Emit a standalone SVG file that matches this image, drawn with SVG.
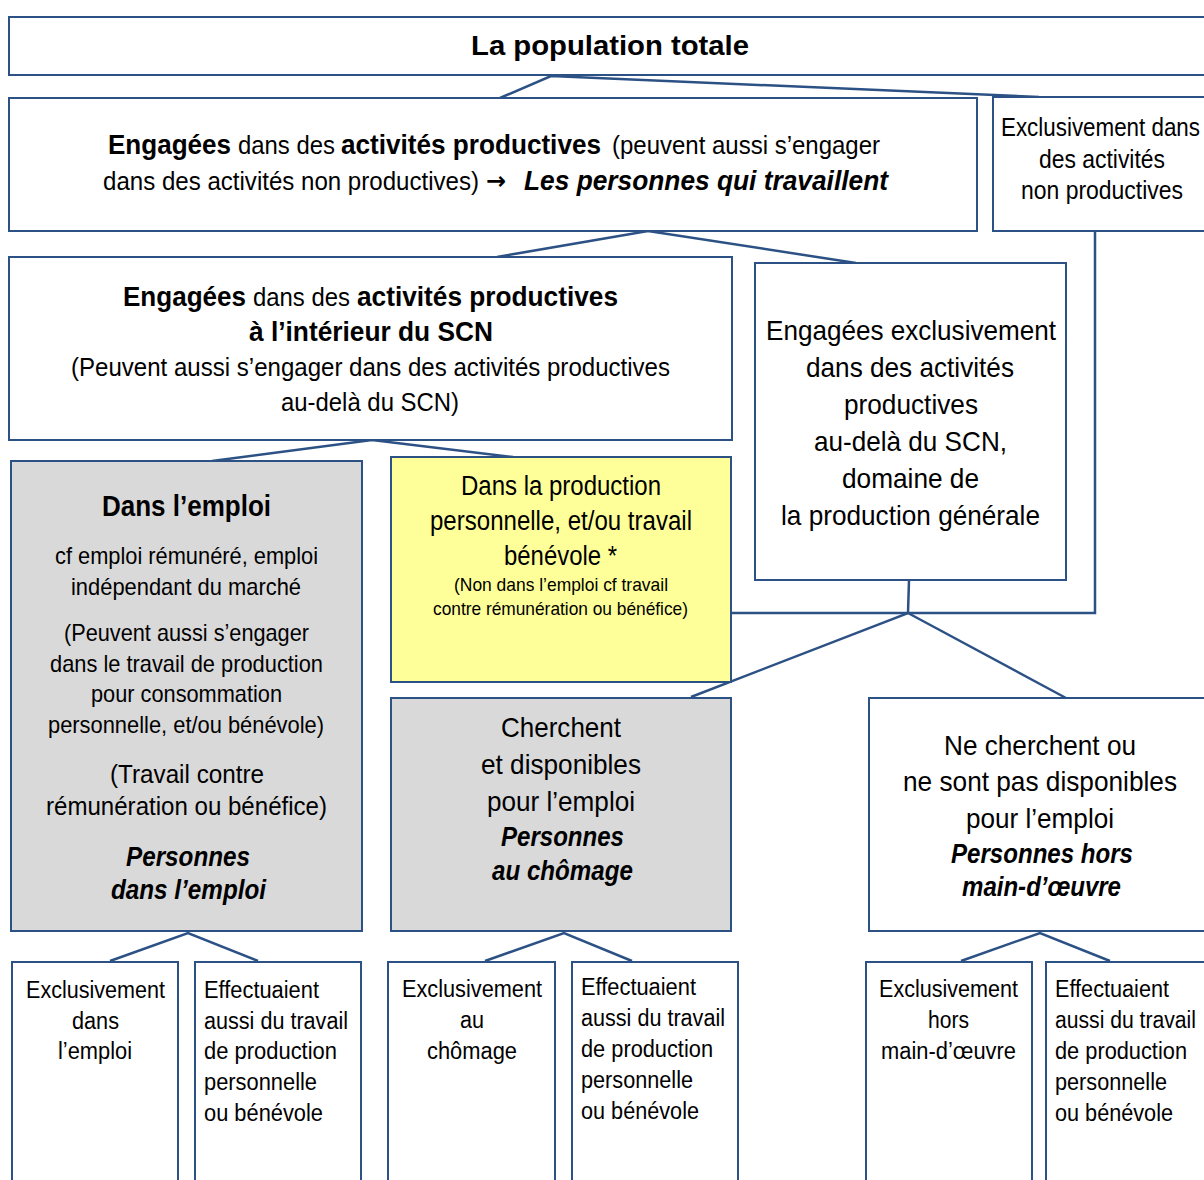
<svg xmlns="http://www.w3.org/2000/svg" width="1204" height="1180" viewBox="0 0 1204 1180">
<style>
.box{fill:#fff;stroke:#2C5185;stroke-width:2}
.gray{fill:#D9D9D9}
.yel{fill:#FFFF99}
.ln{stroke:#2C5185;stroke-width:2.5;fill:none}
text{font-family:"Liberation Sans",Arial,sans-serif;fill:#000}
.b{font-weight:bold}
.bi{font-weight:bold;font-style:italic}
.s23{font-size:23px}
.s24{font-size:24px}
.s25{font-size:25px}
.s26{font-size:26px}
.s27{font-size:27px}
.s28{font-size:28px}
</style>
<rect width="1204" height="1180" fill="#fff"/>
<g id="connectors">
<polyline class="ln" points="500,98 551,76 1039,97"/>
<polyline class="ln" points="497,257 648,231 856,263"/>
<polyline class="ln" points="212,461 372,440 513,457"/>
<line class="ln" x1="909" y1="580" x2="908" y2="613"/>
<polyline class="ln" points="731,613 1095,613 1095,231"/>
<polyline class="ln" points="691,697 908,613 1066,698"/>
<polyline class="ln" points="110,961 188,933 258,961"/>
<polyline class="ln" points="485,961 564,933 632,961"/>
<polyline class="ln" points="961,961 1040,933 1110,961"/>
</g>
<g id="n-total">
<rect class="box" x="9" y="17" width="1205" height="58"/>
<text x="471" y="55" class="b s27" textLength="278" lengthAdjust="spacingAndGlyphs">La population totale</text>
</g>
<g id="n-engagees">
<rect class="box" x="9" y="98" width="968" height="133"/>
<text x="108" y="154" class="b s28" textLength="123" lengthAdjust="spacingAndGlyphs">Engagées</text>
<text x="238" y="154" class="s26" textLength="97" lengthAdjust="spacingAndGlyphs">dans des</text>
<text x="341" y="154" class="b s28" textLength="260" lengthAdjust="spacingAndGlyphs">activités productives</text>
<text x="612" y="154" class="s26" textLength="268" lengthAdjust="spacingAndGlyphs">(peuvent aussi s’engager</text>
<text x="103" y="190" class="s26" textLength="376" lengthAdjust="spacingAndGlyphs">dans des activités non productives)</text>
<text x="486" y="189" style="font-family:'DejaVu Sans',sans-serif;font-weight:bold;font-size:24px">→</text>
<text x="524" y="190" class="bi s28" textLength="364" lengthAdjust="spacingAndGlyphs">Les personnes qui travaillent</text>
</g>
<g id="n-nonprod">
<rect class="box" x="993" y="97" width="221" height="134"/>
<text x="1001" y="136" class="s25" textLength="199" lengthAdjust="spacingAndGlyphs">Exclusivement dans</text>
<text x="1039" y="168" class="s25" textLength="126" lengthAdjust="spacingAndGlyphs">des activités</text>
<text x="1021" y="199" class="s25" textLength="162" lengthAdjust="spacingAndGlyphs">non productives</text>
</g>
<g id="n-scn">
<rect class="box" x="9" y="257" width="723" height="183"/>
<text x="123" y="306" class="b s28" textLength="123" lengthAdjust="spacingAndGlyphs">Engagées</text>
<text x="253" y="306" class="s26" textLength="97" lengthAdjust="spacingAndGlyphs">dans des</text>
<text x="357" y="306" class="b s28" textLength="261" lengthAdjust="spacingAndGlyphs">activités productives</text>
<text x="249" y="341" class="b s28" textLength="244" lengthAdjust="spacingAndGlyphs">à l’intérieur du SCN</text>
<text x="71" y="376" class="s26" textLength="599" lengthAdjust="spacingAndGlyphs">(Peuvent aussi s’engager dans des activités productives</text>
<text x="281" y="411" class="s26" textLength="178" lengthAdjust="spacingAndGlyphs">au-delà du SCN)</text>
</g>
<g id="n-audela">
<rect class="box" x="755" y="263" width="311" height="317"/>
<text x="766" y="340" class="s28" textLength="290" lengthAdjust="spacingAndGlyphs">Engagées exclusivement</text>
<text x="806" y="377" class="s28" textLength="208" lengthAdjust="spacingAndGlyphs">dans des activités</text>
<text x="844" y="414" class="s28" textLength="134" lengthAdjust="spacingAndGlyphs">productives</text>
<text x="814" y="451" class="s28" textLength="193" lengthAdjust="spacingAndGlyphs">au-delà du SCN,</text>
<text x="842" y="488" class="s28" textLength="137" lengthAdjust="spacingAndGlyphs">domaine de</text>
<text x="781" y="525" class="s28" textLength="259" lengthAdjust="spacingAndGlyphs">la production générale</text>
</g>
<g id="n-emploi">
<rect class="box gray" x="11" y="461" width="351" height="470"/>
<text x="102" y="516" class="b" font-size="30" textLength="169" lengthAdjust="spacingAndGlyphs">Dans l’emploi</text>
<text x="55" y="564" class="s24" textLength="263" lengthAdjust="spacingAndGlyphs">cf emploi rémunéré, emploi</text>
<text x="71" y="595" class="s24" textLength="230" lengthAdjust="spacingAndGlyphs">indépendant du marché</text>
<text x="64" y="641" class="s24" textLength="245" lengthAdjust="spacingAndGlyphs">(Peuvent aussi s’engager</text>
<text x="50" y="672" class="s24" textLength="273" lengthAdjust="spacingAndGlyphs">dans le travail de production</text>
<text x="91" y="702" class="s24" textLength="191" lengthAdjust="spacingAndGlyphs">pour consommation</text>
<text x="48" y="733" class="s24" textLength="276" lengthAdjust="spacingAndGlyphs">personnelle, et/ou bénévole)</text>
<text x="110" y="783" class="s26" textLength="154" lengthAdjust="spacingAndGlyphs">(Travail contre</text>
<text x="46" y="815" class="s26" textLength="281" lengthAdjust="spacingAndGlyphs">rémunération ou bénéfice)</text>
<text x="126" y="866" class="bi s27" textLength="124" lengthAdjust="spacingAndGlyphs">Personnes</text>
<text x="111" y="899" class="bi s27" textLength="155" lengthAdjust="spacingAndGlyphs">dans l’emploi</text>
</g>
<g id="n-perso">
<rect class="box yel" x="391" y="457" width="340" height="225"/>
<text x="461" y="495" class="s27" textLength="200" lengthAdjust="spacingAndGlyphs">Dans la production</text>
<text x="430" y="530" class="s27" textLength="262" lengthAdjust="spacingAndGlyphs">personnelle, et/ou travail</text>
<text x="504" y="565" class="s27" textLength="113" lengthAdjust="spacingAndGlyphs">bénévole *</text>
<text x="454" y="591" font-size="19" textLength="214" lengthAdjust="spacingAndGlyphs">(Non dans l’emploi cf travail</text>
<text x="433" y="615" font-size="19" textLength="255" lengthAdjust="spacingAndGlyphs">contre rémunération ou bénéfice)</text>
</g>
<g id="n-chomage">
<rect class="box gray" x="391" y="698" width="340" height="233"/>
<text x="501" y="737" class="s28" textLength="120" lengthAdjust="spacingAndGlyphs">Cherchent</text>
<text x="481" y="774" class="s28" textLength="160" lengthAdjust="spacingAndGlyphs">et disponibles</text>
<text x="487" y="811" class="s28" textLength="148" lengthAdjust="spacingAndGlyphs">pour l’emploi</text>
<text x="501" y="846" class="bi s27" textLength="123" lengthAdjust="spacingAndGlyphs">Personnes</text>
<text x="492" y="880" class="bi s27" textLength="141" lengthAdjust="spacingAndGlyphs">au chômage</text>
</g>
<g id="n-hors">
<rect class="box" x="869" y="698" width="345" height="233"/>
<text x="944" y="755" class="s28" textLength="192" lengthAdjust="spacingAndGlyphs">Ne cherchent ou</text>
<text x="903" y="791" class="s28" textLength="274" lengthAdjust="spacingAndGlyphs">ne sont pas disponibles</text>
<text x="966" y="828" class="s28" textLength="148" lengthAdjust="spacingAndGlyphs">pour l’emploi</text>
<text x="951" y="863" class="bi s27" textLength="182" lengthAdjust="spacingAndGlyphs">Personnes hors</text>
<text x="962" y="896" class="bi s27" textLength="159" lengthAdjust="spacingAndGlyphs">main-d’œuvre</text>
</g>
<g id="n-b1">
<rect class="box" x="12" y="962" width="166" height="230"/>
<text x="26" y="998" class="s23" textLength="139" lengthAdjust="spacingAndGlyphs">Exclusivement</text>
<text x="72" y="1029" class="s23" textLength="47" lengthAdjust="spacingAndGlyphs">dans</text>
<text x="58" y="1059" class="s23" textLength="74" lengthAdjust="spacingAndGlyphs">l’emploi</text>
</g>
<g id="n-b2">
<rect class="box" x="195" y="962" width="166" height="230"/>
<text x="204" y="998" class="s23" textLength="115" lengthAdjust="spacingAndGlyphs">Effectuaient</text>
<text x="204" y="1029" class="s23" textLength="144" lengthAdjust="spacingAndGlyphs">aussi du travail</text>
<text x="204" y="1059" class="s23" textLength="133" lengthAdjust="spacingAndGlyphs">de production</text>
<text x="204" y="1090" class="s23" textLength="113" lengthAdjust="spacingAndGlyphs">personnelle</text>
<text x="204" y="1121" class="s23" textLength="119" lengthAdjust="spacingAndGlyphs">ou bénévole</text>
</g>
<g id="n-b3">
<rect class="box" x="388" y="962" width="167" height="230"/>
<text x="402" y="997" class="s23" textLength="140" lengthAdjust="spacingAndGlyphs">Exclusivement</text>
<text x="460" y="1028" class="s23" textLength="24" lengthAdjust="spacingAndGlyphs">au</text>
<text x="427" y="1059" class="s23" textLength="90" lengthAdjust="spacingAndGlyphs">chômage</text>
</g>
<g id="n-b4">
<rect class="box" x="572" y="962" width="166" height="230"/>
<text x="581" y="995" class="s23" textLength="115" lengthAdjust="spacingAndGlyphs">Effectuaient</text>
<text x="581" y="1026" class="s23" textLength="144" lengthAdjust="spacingAndGlyphs">aussi du travail</text>
<text x="581" y="1057" class="s23" textLength="132" lengthAdjust="spacingAndGlyphs">de production</text>
<text x="581" y="1088" class="s23" textLength="112" lengthAdjust="spacingAndGlyphs">personnelle</text>
<text x="581" y="1119" class="s23" textLength="118" lengthAdjust="spacingAndGlyphs">ou bénévole</text>
</g>
<g id="n-b5">
<rect class="box" x="866" y="962" width="166" height="230"/>
<text x="879" y="997" class="s23" textLength="139" lengthAdjust="spacingAndGlyphs">Exclusivement</text>
<text x="928" y="1028" class="s23" textLength="41" lengthAdjust="spacingAndGlyphs">hors</text>
<text x="881" y="1059" class="s23" textLength="135" lengthAdjust="spacingAndGlyphs">main-d’œuvre</text>
</g>
<g id="n-b6">
<rect class="box" x="1046" y="962" width="168" height="230"/>
<text x="1055" y="997" class="s23" textLength="114" lengthAdjust="spacingAndGlyphs">Effectuaient</text>
<text x="1055" y="1028" class="s23" textLength="141" lengthAdjust="spacingAndGlyphs">aussi du travail</text>
<text x="1055" y="1059" class="s23" textLength="132" lengthAdjust="spacingAndGlyphs">de production</text>
<text x="1055" y="1090" class="s23" textLength="112" lengthAdjust="spacingAndGlyphs">personnelle</text>
<text x="1055" y="1121" class="s23" textLength="118" lengthAdjust="spacingAndGlyphs">ou bénévole</text>
</g>
</svg>
